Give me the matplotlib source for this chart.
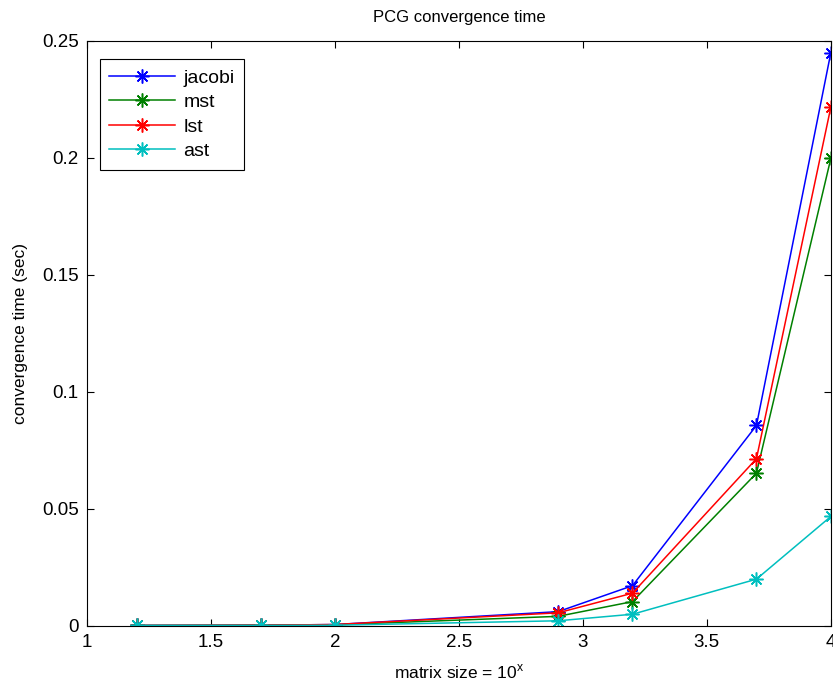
import matplotlib
matplotlib.use("Agg")
import matplotlib.pyplot as plt

plt.rcParams.update({
    "font.family": ["Liberation Sans", "DejaVu Sans"],
    "font.size": 13,
    "xtick.direction": "in",
    "ytick.direction": "in",
    "xtick.top": True,
    "ytick.right": True,
})

# x = log10(matrix size)
sizes_exp = [1.2, 1.7, 2.0, 2.9, 3.2, 3.7, 4.0]
jacobi = [0.0001, 0.0002, 0.0005, 0.0060, 0.0171, 0.0856, 0.2450]
mst = [0.0001, 0.0002, 0.0004, 0.0040, 0.0103, 0.0652, 0.1998]
lst = [0.0001, 0.0002, 0.0005, 0.0055, 0.0139, 0.0714, 0.2217]
ast = [0.0001, 0.0001, 0.0002, 0.0021, 0.0049, 0.0199, 0.0467]

series = [("jacobi", jacobi, (0, 0, 1)),
          ("mst", mst, (0, 0.5, 0)),
          ("lst", lst, (1, 0, 0)),
          ("ast", ast, (0, 0.75, 0.75))]

fig = plt.figure(figsize=(8.33, 6.91), dpi=100)
ax = fig.add_axes([0.1044, 0.0945, 0.8930, 0.8462])

# MATLAB-style '*' marker: 8-spoke asterisk
for name, vals, col in series:
    ax.plot(sizes_exp, vals, color=col, lw=1.1, marker=(8, 2, 0), ms=10,
            markeredgewidth=1.1, label=name)

ax.set_xlim(1, 4)
ax.set_ylim(0, 0.25)
ax.set_xticks([1, 1.5, 2, 2.5, 3, 3.5, 4])
ax.set_xticklabels(["1", "1.5", "2", "2.5", "3", "3.5", "4"])
ax.set_yticks([0, 0.05, 0.1, 0.15, 0.2, 0.25])
ax.set_yticklabels(["0", "0.05", "0.1", "0.15", "0.2", "0.25"])
ax.tick_params(length=5, width=0.8, pad=6, labelsize=13.5)
for s in ax.spines.values():
    s.set_linewidth(0.8)

ax.set_title("PCG convergence time", fontsize=12, pad=14)
ax.set_xlabel("matrix size = 10$^{\\mathregular{x}}$", fontsize=12.5, labelpad=8)
ax.set_ylabel("convergence time (sec)", fontsize=12.5, labelpad=10)

leg = ax.legend(loc="upper left", bbox_to_anchor=(0.004, 0.985), fontsize=14,
                frameon=True, fancybox=False, framealpha=1, edgecolor="black",
                handlelength=3.4, handletextpad=0.4, labelspacing=0.35,
                borderpad=0.5)
leg.get_frame().set_linewidth(0.8)

fig.savefig("out.png", dpi=100)
